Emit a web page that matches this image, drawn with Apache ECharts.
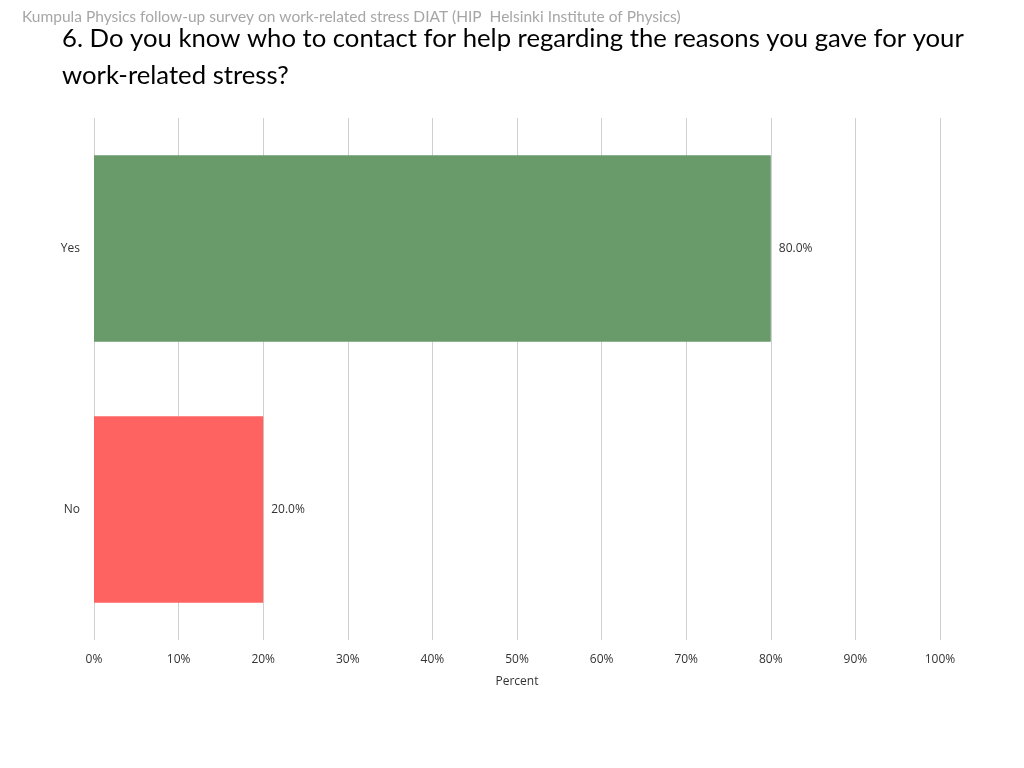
<!DOCTYPE html>
<html>
<head>
<meta charset="utf-8">
<script src="https://cdn.jsdelivr.net/npm/echarts@6/dist/echarts.min.js"></script>
<style>
  html, body { margin: 0; padding: 0; background: #fff; }
  #chart { width: 1024px; height: 768px; }
</style>
</head>
<body>
<div id="chart"></div>
<script>
// survey answers, top to bottom
const categories = ['Yes', 'No'];
const percents = [80.0, 20.0];
const barColors = ['#699a69', '#ff6361'];

const chart = echarts.init(document.getElementById('chart'));

chart.setOption({
  animation: false,
  title: [
    {
      text: 'Kumpula Physics follow-up survey on work-related stress DIAT (HIP  Helsinki Institute of Physics)',
      left: 17, top: 4, padding: 5,
      textStyle: { fontFamily: 'Lato', fontSize: 15.5, fontWeight: 'normal', color: '#a6a6a6' }
    },
    {
      text: '6. Do you know who to contact for help regarding the reasons you gave for your\nwork-related stress?',
      left: 57, top: 15, padding: 5,
      textStyle: { fontFamily: 'Lato', fontSize: 25.7, fontWeight: 'normal', color: '#000', lineHeight: 37 }
    }
  ],
  grid: { left: 94, right: 84, top: 118, bottom: 128 },
  xAxis: {
    type: 'value',
    min: 0, max: 100, interval: 10,
    name: 'Percent',
    nameLocation: 'middle',
    nameGap: 36,
    nameTextStyle: { fontFamily: 'Open Sans', fontSize: 12, color: '#333' },
    axisLine: { show: false },
    axisTick: { show: false },
    axisLabel: { formatter: '{value}%', margin: 14, fontFamily: 'Open Sans', fontSize: 12, color: '#333' },
    splitLine: { show: true, lineStyle: { color: '#d0d0d0', width: 1 } }
  },
  yAxis: {
    type: 'category',
    inverse: true,
    data: categories,
    axisLine: { show: false },
    axisTick: { show: false },
    axisLabel: { margin: 14, fontFamily: 'Open Sans', fontSize: 12, color: '#333' }
  },
  series: [{
    type: 'bar',
    barWidth: '71.5%',
    data: percents.map((v, i) => ({ value: v, itemStyle: { color: barColors[i] } })),
    label: {
      show: true,
      position: 'right',
      distance: 8,
      formatter: p => p.value.toFixed(1) + '%',
      fontFamily: 'Open Sans', fontSize: 12, color: '#333'
    }
  }]
});
</script>
</body>
</html>
